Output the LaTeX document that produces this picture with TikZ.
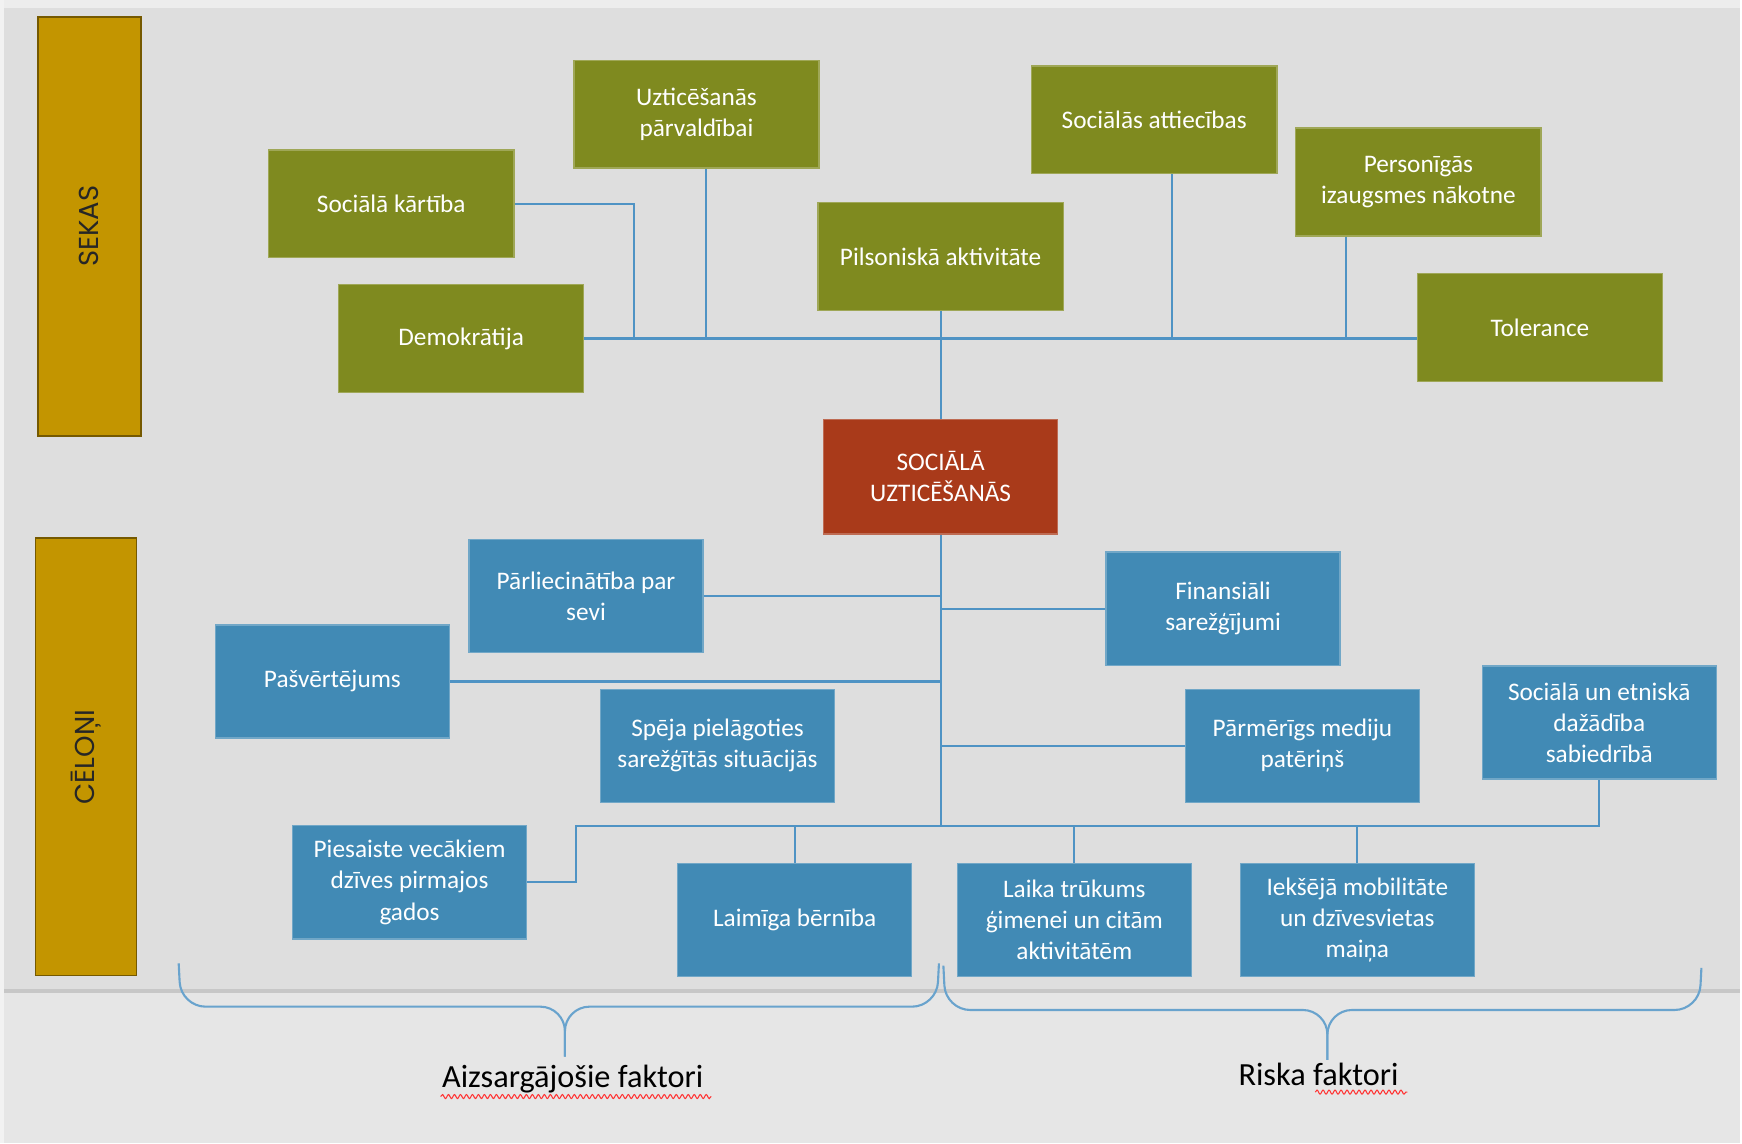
\documentclass[tikz,border=0pt]{standalone}
\usepackage{fontspec}
\setmainfont{Carlito}
\newfontfamily\barfont{Poppins}
\usetikzlibrary{calc,decorations.pathmorphing}

\definecolor{bgtop}{HTML}{DEDEDE}
\definecolor{bgbot}{HTML}{E6E6E6}
\definecolor{grn}{HTML}{7F8A1F}
\definecolor{blu}{HTML}{418AB5}
\definecolor{rd}{HTML}{A93A1A}
\definecolor{gold}{HTML}{C39500}
\definecolor{linkcol}{HTML}{4F93C4}

\begin{document}
\begin{tikzpicture}[x=0.1111mm, y=-0.1111mm,
    box/.style={draw=#1!75!white, fill=#1, text=white, align=center, inner sep=0pt,
        line width=0.4pt, font=\fontsize{7.2}{8.85}\selectfont},
    gbox/.style={box=grn, minimum width=24.55mm, minimum height=10.78mm},
    bbox/.style={box=blu, minimum width=23.44mm, minimum height=11.33mm},
    bar/.style={draw=gold!60!black, fill=gold, rotate=90, line width=0.5pt,
        text=black!85, font=\barfont\fontsize{7.8}{9}\selectfont},
    link/.style={linkcol, line width=0.6pt},
    brace/.style={linkcol!85!white, line width=0.6pt, rounded corners=7},
    lbl/.style={text=black, font=\fontsize{9.2}{11}\selectfont},
    wavy/.style={red!80!white, line width=0.3pt, decorate,
        decoration={snake, segment length=0.6mm, amplitude=0.2mm}}]

    % Background
    \fill[bgtop] (0,0) rectangle (1568,893);
    \fill[bgbot] (0,893) rectangle (1568,1030);
    \fill[black!7] (0,0) rectangle (1568,7);
    \fill[black!5] (0,0) rectangle (4,1030);
    \draw[black!22, line width=1pt] (4,893) -- (1568,893);

    % Side bars
    \node[bar, minimum width=42.0mm, minimum height=10.33mm] (sekas) at (80.5,204) {SEKAS};
    \node[bar, minimum width=43.77mm, minimum height=10.11mm] (celoni) at (77.5,682) {CĒLOŅI};

    % Consequences
    \node[gbox] (uzt) at (627.5,103) {Uzticēšanās\\pārvaldībai};
    \node[gbox] (kart) at (352.5,183.5) {Sociālā kārtība};
    \node[gbox] (demo) at (415.5,305) {Demokrātija};
    \node[gbox] (pils) at (847.5,231) {Pilsoniskā aktivitāte};
    \node[gbox] (attl) at (1040,108) {Sociālās attiecības};
    \node[gbox] (pers) at (1278,164) {Personīgās\\izaugsmes nākotne};
    \node[gbox] (tol) at (1387.5,295) {Tolerance};

    % Centre
    \node[box=rd, minimum width=23.44mm, minimum height=11.44mm] (red) at (847.5,429.5)
        {SOCIĀLĀ\\UZTICĒŠANĀS};

    % Causes
    \node[bbox] (parl) at (528,537) {Pārliecinātība par\\sevi};
    \node[bbox] (pasv) at (299.5,614) {Pašvērtējums};
    \node[bbox] (speja) at (646.5,672) {Spēja pielāgoties\\sarežģītās situācijās};
    \node[bbox] (fin) at (1102,548.5) {Finansiāli\\sarežģījumi};
    \node[bbox] (parm) at (1173.5,672) {Pārmērīgs mediju\\patēriņš};
    \node[bbox] (etn) at (1441,651) {Sociālā un etniskā\\dažādība\\sabiedrībā};
    \node[bbox] (pies) at (369,795) {Piesaiste vecākiem\\dzīves pirmajos\\gados};
    \node[bbox] (laim) at (716,829) {Laimīga bērnība};
    \node[bbox] (laika) at (968,829) {Laika trūkums\\ģimenei un citām\\aktivitātēm};
    \node[bbox] (iek) at (1223,829) {Iekšējā mobilitāte\\un dzīvesvietas\\maiņa};

    % Upper connectors
    \draw[link] (demo.east) -- (demo.east -| tol.west);
    \draw[link] (kart.east) -| ($(demo.east)+(45,0)$);
    \coordinate (t1) at ($(uzt.south)+(8.5,0)$);
    \coordinate (t2) at ($(attl.south)+(16,0)$);
    \coordinate (t3) at ($(pers.south)+(-65,0)$);
    \foreach \t in {t1,t2,t3}
        \draw[link] (\t) -- (\t |- demo.east);
    \draw[link] (pils.south) -- (red.north);

    % Lower connectors
    \coordinate (busl) at (519,744);
    \draw[link] (red.south) -- (red.south |- busl);
    \foreach \n in {parl,pasv}
        \draw[link] (\n.east) -- (\n.east -| red.south);
    \foreach \n in {fin,parm}
        \draw[link] (\n.west) -- (\n.west -| red.south);
    \draw[link] (pies.east) -| (busl) -- (busl -| etn.south) -- (etn.south);
    \foreach \n in {laim,laika,iek}
        \draw[link] (\n.north) -- (\n.north |- busl);

    % Braces
    \draw[brace] (161,868) -- (163,907) -- (509,907) -- (509,952);
    \draw[brace] (846,868) -- (844,907) -- (509,907) -- (509,952);
    \draw[brace] (850,870) -- (852,910) -- (1196,910) -- (1196,955);
    \draw[brace] (1533,872) -- (1531,910) -- (1196,910) -- (1196,955);

    % Labels
    \node[lbl] (aizs) at (516,972) {Aizsargājošie faktori};
    \node[lbl] (risk) at (1188,968) {Riska faktori};
    \draw[wavy] (397,988) -- (641,988);
    \draw[wavy] (1185,984) -- (1268,984);

\end{tikzpicture}
\end{document}
